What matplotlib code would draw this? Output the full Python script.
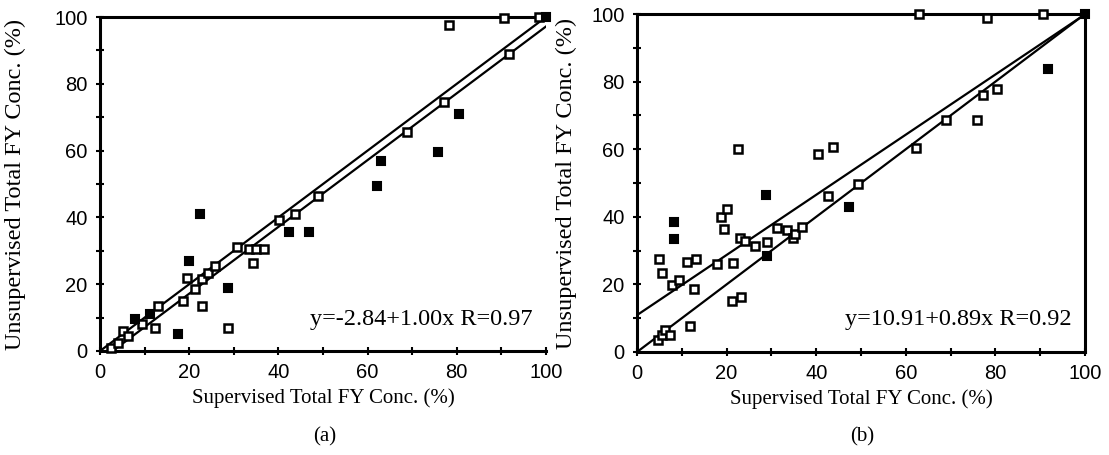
import numpy as np
import matplotlib
matplotlib.use('Agg')
import matplotlib.pyplot as plt

# ---------------------------------------------------------------------------
# Data (percent)
# ---------------------------------------------------------------------------

# panel (a)
a_open_x = [2.5, 4.0, 5.2, 6.3, 9.5, 12.3, 13.0, 18.6, 19.5, 21.3, 22.9, 22.9, 24.2, 25.8, 28.7,
            30.7, 33.5, 34.3, 35.0, 36.8, 40.1, 43.7, 48.9, 68.8, 77.1, 78.3, 90.6, 91.7, 98.5]
a_open_y = [1.0, 2.5, 6.0, 4.5, 8.0, 7.0, 13.5, 15.0, 22.0, 18.6, 21.6, 13.5, 23.4, 25.5, 7.0,
            31.0, 30.6, 26.4, 30.6, 30.6, 39.2, 41.1, 46.5, 65.5, 74.5, 97.6, 99.7, 88.9, 100]
a_fill_x = [7.8, 11.2, 17.5, 20.0, 22.4, 28.7, 42.4, 46.9, 62.0, 63.0, 75.8, 80.5, 100]
a_fill_y = [9.6, 11.0, 5.0, 27.0, 41.1, 19.0, 35.7, 35.7, 49.5, 56.8, 59.5, 71.0, 100]
a_fit = (-2.84, 1.00)
a_label = 'y=-2.84+1.00x R=0.97'

# panel (b)
b_open_x = [4.7, 5.5, 6.3, 7.4, 4.9, 5.6, 7.8, 9.4, 11.2, 11.8, 12.7, 13.2, 17.9, 18.7, 19.4,
            20.1, 21.2, 21.4, 22.5, 23.0, 23.2, 24.1, 26.3, 29.0, 31.3, 33.5, 34.8, 35.3, 36.8,
            40.4, 42.6, 43.8, 49.3, 62.3, 63.0, 69.0, 75.9, 77.2, 78.1, 80.4, 90.6]
b_open_y = [3.6, 5.0, 6.5, 5.0, 27.4, 23.5, 19.9, 21.4, 26.5, 7.7, 18.5, 27.4, 25.9, 39.9, 36.3,
            42.3, 15.2, 26.2, 60.1, 33.6, 16.4, 32.7, 31.5, 32.4, 36.6, 36.0, 33.6, 34.8, 36.9,
            58.6, 46.1, 60.7, 49.7, 60.4, 100, 68.7, 68.7, 75.9, 98.8, 77.9, 100]
b_fill_x = [8.3, 8.3, 28.8, 29.0, 47.3, 91.7, 100]
b_fill_y = [38.4, 33.3, 46.4, 28.3, 42.9, 83.6, 100]
b_fit = (10.91, 0.89)
b_label = 'y=10.91+0.89x R=0.92'

ticks = [0, 20, 40, 60, 80, 100]

SERIF = ['Liberation Serif', 'DejaVu Serif']
NARROW = ['Liberation Sans Narrow', 'Liberation Sans', 'DejaVu Sans']


def draw_panel(ax, open_x, open_y, fill_x, fill_y, fit, label, right_spine, ylab_x):
    xs = np.array([0, 100])
    ax.plot(xs, xs, color='black', lw=1.6)
    ax.plot(xs, fit[0] + fit[1] * xs, color='black', lw=1.6)
    ax.plot(open_x, open_y, 's', ms=6, mfc='white', mec='black', mew=1.8,
            linestyle='none', clip_on=False, zorder=3)
    ax.plot(fill_x, fill_y, 's', ms=6, mfc='black', mec='black', mew=1.5,
            linestyle='none', clip_on=False, zorder=3)

    ax.set_xlim(0, 100)
    ax.set_ylim(0, 100)
    ax.set_xticks(ticks)
    ax.set_yticks(ticks)
    ax.set_xticks(np.arange(10, 100, 20), minor=True)
    ax.set_yticks(np.arange(10, 100, 20), minor=True)
    ax.tick_params(axis='both', which='both', direction='inout', length=6, width=1.5,
                   labelsize=14.5, pad=6)
    for lab in ax.get_xticklabels() + ax.get_yticklabels():
        lab.set_family(NARROW)
    for side in ['left', 'bottom', 'top', 'right']:
        ax.spines[side].set_linewidth(2.2)
    ax.spines['right'].set_visible(right_spine)

    ax.set_xlabel('Supervised Total FY Conc. (%)', family=SERIF, fontsize=15, labelpad=4)
    ax.set_ylabel('Unsupervised Total FY Conc. (%)', family=SERIF, fontsize=17.5)
    ax.yaxis.set_label_coords(ylab_x, 0.5)
    ax.text(97, 9.5, label, ha='right', va='center', family=SERIF, fontsize=17.5)


fig = plt.figure(figsize=(11.09, 4.55), dpi=100)
ax_a = fig.add_axes([0.0902, 0.2286, 0.4021, 0.7340])
ax_b = fig.add_axes([0.5744, 0.2264, 0.4040, 0.7428])

draw_panel(ax_a, a_open_x, a_open_y, a_fill_x, a_fill_y, a_fit, a_label, False, -0.165)
draw_panel(ax_b, b_open_x, b_open_y, b_fill_x, b_fill_y, b_fit, b_label, True, -0.135)

fig.text(0.293, 0.04, '(a)', ha='center', va='center', family=SERIF, fontsize=15)
fig.text(0.777, 0.04, '(b)', ha='center', va='center', family=SERIF, fontsize=15)

fig.savefig('out.png', dpi=100)
